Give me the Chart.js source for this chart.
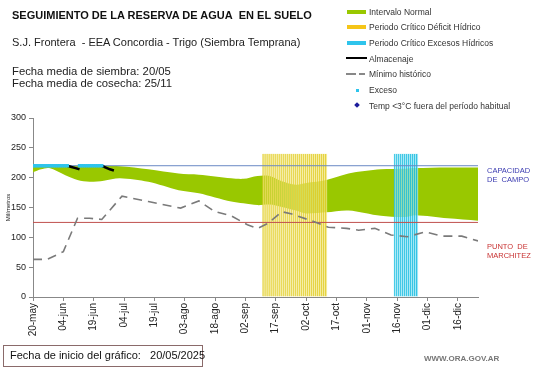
<!DOCTYPE html>
<html>
<head>
<meta charset="utf-8">
<script src="https://cdn.jsdelivr.net/npm/chart.js@4"></script>
<style>
body { margin: 0; background: #fff; }
#wrap { position: relative; width: 541px; height: 368px; overflow: hidden; font-family: 'Liberation Sans', Arial, sans-serif; }
#c { position: absolute; left: 0; top: 0; }
.t { position: absolute; white-space: nowrap; line-height: 1; }
.lg { position: absolute; left: 369px; font-size: 8.5px; color: #333; white-space: nowrap; line-height: 1; }
.sw { position: absolute; }
</style>
</head>
<body>
<div id="wrap">
  <canvas id="c" width="541" height="368"></canvas>

  <div class="t" style="left:12px;top:10px;font-size:11px;font-weight:bold;color:#111;">SEGUIMIENTO DE LA RESERVA DE AGUA&nbsp; EN EL SUELO</div>
  <div class="t" style="left:12px;top:37px;font-size:11px;color:#222;">S.J. Frontera&nbsp; - EEA Concordia - Trigo (Siembra Temprana)</div>
  <div class="t" style="left:12px;top:66px;font-size:11.3px;color:#222;">Fecha media de siembra: 20/05</div>
  <div class="t" style="left:12px;top:78px;font-size:11.3px;color:#222;">Fecha media de cosecha: 25/11</div>

  <!-- leyenda -->
  <div class="sw" style="left:347px;top:10px;width:19px;height:4px;background:#99c800;"></div>
  <div class="lg" style="top:8px;">Intervalo Normal</div>
  <div class="sw" style="left:347px;top:25px;width:19px;height:4px;background:#f5c518;"></div>
  <div class="lg" style="top:23px;">Periodo Crítico Déficit Hídrico</div>
  <div class="sw" style="left:347px;top:41px;width:19px;height:4px;background:#2ec4ec;"></div>
  <div class="lg" style="top:39px;">Periodo Crítico Excesos Hídricos</div>
  <div class="sw" style="left:346px;top:57px;width:21px;height:2px;background:#000;"></div>
  <div class="lg" style="top:55px;">Almacenaje</div>
  <div class="sw" style="left:346px;top:73px;width:10px;height:1.5px;background:#888;"></div>
  <div class="sw" style="left:359px;top:73px;width:6px;height:1.5px;background:#888;"></div>
  <div class="lg" style="top:70px;">Mínimo histórico</div>
  <div class="sw" style="left:356px;top:89px;width:2.5px;height:2.5px;background:#2ec4ec;"></div>
  <div class="lg" style="top:86px;">Exceso</div>
  <div class="sw" style="left:355px;top:103px;width:4px;height:4px;background:#1c1c9c;transform:rotate(45deg);"></div>
  <div class="lg" style="top:102px;">Temp &lt;3°C fuera del período habitual</div>

  <!-- referencias a la derecha -->
  <div class="t" style="left:487px;top:166px;font-size:7.5px;color:#3a3ab0;line-height:9px;">CAPACIDAD<br>DE&nbsp; CAMPO</div>
  <div class="t" style="left:487px;top:242px;font-size:7.5px;color:#c83232;line-height:9px;">PUNTO&nbsp; DE<br>MARCHITEZ</div>

  <div class="t" style="left:3px;top:345px;width:198px;height:20px;border:1px solid #8a6a6a;"></div>
  <div class="t" style="left:10px;top:350px;font-size:11px;color:#111;">Fecha de inicio del gráfico:&nbsp;&nbsp; 20/05/2025</div>
  <div class="t" style="left:424px;top:355px;font-size:8px;font-weight:bold;color:#777;">WWW.ORA.GOV.AR</div>
</div>

<script>
// eje x en días desde 20-may
const tickDays = [0, 15, 30, 45, 60, 75, 90, 105, 120, 135, 150, 165, 180, 195, 210];
const xLabels = ['20-may', '04-jun', '19-jun', '04-jul', '19-jul', '03-ago', '18-ago', '02-sep', '17-sep', '02-oct', '17-oct', '01-nov', '16-nov', '01-dic', '16-dic'];
const yTicks = [0, 50, 100, 150, 200, 250, 300];

// intervalo normal (banda verde)
const bandDays  = [0, 4, 8, 16, 22, 28, 35, 43, 57, 72, 82, 98, 104, 111, 117, 123, 130, 135, 145, 156, 172, 184, 189, 205, 220];
const bandUpper = [219, 220, 220, 220, 220, 220, 220, 219, 214, 207, 205, 199, 198, 203, 203, 194, 188, 191, 196, 207, 214, 215, 216, 217, 217];
const bandLower = [209, 214, 216, 204, 196, 193, 195, 199, 193, 179, 174, 160, 157, 154, 155, 151, 145, 140, 142, 145, 136, 134, 137, 132, 128];

// mínimo histórico
const minDays   = [0, 7, 15, 22, 28, 34, 44, 57, 73, 82, 90, 98, 106, 111, 116, 123, 128, 140, 146, 155, 161, 169, 177, 185, 194, 202, 212, 220];
const minValues = [63, 63, 76, 132, 132, 130, 169, 160, 149, 161, 143, 136, 121, 115, 123, 143, 139, 125, 117, 115, 112, 115, 104, 101, 109, 102, 102, 94];

// almacenaje
const almDays   = [17, 19, 21, 23, 28, 34, 36, 38, 40];
const almValues = [220, 218, 216, 214, null, 220, 217, 214, 212];

// exceso (puntos sobre capacidad de campo)
const excesoDays = [0, 1, 2, 3, 4, 5, 6, 7, 8, 9, 10, 11, 12, 13, 14, 15, 16, 17, 23, 24, 25, 26, 27, 28, 29, 30, 31, 32, 33, 34];
const excesoValue = 220;

// periodos críticos
const deficitDays = [114, 115, 116, 117, 118, 119, 120, 121, 122, 123, 124, 125, 126, 127, 128, 129, 130, 131, 132, 133, 134, 135, 136, 137, 138, 139, 140, 141, 142, 143, 144, 145];
const excesosDays = [179, 180, 181, 182, 183, 184, 185, 186, 187, 188, 189, 190];
const periodTop = 240;

const capacidadCampo = 220;
const puntoMarchitez = 125;

const pts = (xs, ys) => xs.map((x, i) => ({ x: x, y: ys[i] }));
const flat = (xs, v) => xs.map(x => ({ x: x, y: v }));

const datasets = [
    { type: 'line', label: 'sup', data: pts(bandDays, bandUpper), borderWidth: 0, pointRadius: 0, fill: false, order: 10, tension: 0.3 },
    { type: 'line', label: 'Intervalo Normal', data: pts(bandDays, bandLower), borderWidth: 0, pointRadius: 0, fill: '-1', backgroundColor: '#99c800', order: 9, tension: 0.3 },
    { type: 'bar', label: 'Déficit', data: flat(deficitDays, periodTop), grouped: false, barPercentage: 1, categoryPercentage: 1,
      backgroundColor: 'rgba(250,242,170,0.5)', borderColor: 'rgba(225,205,40,0.9)', borderWidth: { left: 1, right: 0, top: 0, bottom: 0 }, borderSkipped: false, order: 5 },
    { type: 'bar', label: 'Excesos', data: flat(excesosDays, periodTop), grouped: false, barPercentage: 1, categoryPercentage: 1,
      backgroundColor: 'rgba(190,240,250,0.55)', borderColor: 'rgba(30,190,225,0.9)', borderWidth: { left: 1, right: 0, top: 0, bottom: 0 }, borderSkipped: false, order: 5 },
    { type: 'line', label: 'cc', data: flat([0, 220], capacidadCampo), borderColor: '#6a88c4', borderWidth: 1, pointRadius: 0, order: 3 },
    { type: 'line', label: 'pmp', data: flat([0, 220], puntoMarchitez), borderColor: '#c0504d', borderWidth: 1, pointRadius: 0, order: 3 },
    { type: 'line', label: 'Mínimo histórico', data: pts(minDays, minValues), borderColor: '#7a7a7a', borderWidth: 1.6, borderDash: [9, 6], pointRadius: 0, order: 2 },
    { type: 'line', label: 'Almacenaje', data: pts(almDays, almValues), borderColor: '#000', borderWidth: 2.5, pointRadius: 0, spanGaps: false, order: 1 },
    { type: 'line', label: 'Exceso', data: flat(excesoDays, excesoValue), showLine: false, pointStyle: 'rect', pointRadius: 2.4, pointBorderWidth: 0, pointBackgroundColor: '#2ec4ec', order: 0 }
];

new Chart(document.getElementById('c'), {
    type: 'line',
    data: { datasets: datasets },
    options: {
        responsive: false, animation: false, devicePixelRatio: 1,
        layout: { padding: { top: 118, right: 63, left: 0, bottom: 0 } },
        plugins: { legend: { display: false }, tooltip: { enabled: false } },
        scales: {
            x: {
                type: 'linear', min: 0, max: 220, offset: false,
                afterBuildTicks: s => { s.ticks = tickDays.map(v => ({ value: v })); },
                afterFit: s => { s.height = 71; },
                ticks: { autoSkip: false, minRotation: 90, maxRotation: 90, padding: 2, color: '#222',
                         font: { family: "'Liberation Sans', Arial", size: 10 },
                         callback: v => xLabels[tickDays.indexOf(v)] },
                grid: { drawOnChartArea: false, offset: false, tickLength: 4, color: '#888' },
                border: { color: '#888' }
            },
            y: {
                min: 0, max: 300,
                afterBuildTicks: s => { s.ticks = yTicks.map(v => ({ value: v })); },
                afterFit: s => { s.width = 33; },
                ticks: { padding: 3, color: '#222', font: { family: "'Liberation Sans', Arial", size: 9 } },
                grid: { drawOnChartArea: false, tickLength: 4, color: '#888' },
                border: { color: '#888' },
                title: { display: true, text: 'Milímetros', padding: { top: 5, bottom: 0 }, color: '#222', font: { family: "'Liberation Sans', Arial", size: 6 } }
            }
        }
    }
});
</script>
</body>
</html>
